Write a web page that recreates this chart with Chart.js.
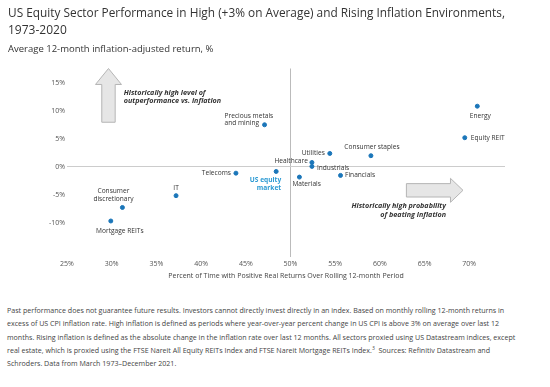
<!doctype html>
<html lang="en">
<head>
<meta charset="utf-8">
<title>US Equity Sector Performance</title>
<script src="https://cdn.jsdelivr.net/npm/chart.js@4.4.1/dist/chart.umd.min.js"></script>
<style>
  body { margin: 0; background: #fff; font-family: "Open Sans", sans-serif; }
  #wrap { position: relative; width: 550px; height: 290px; }
  #note { position: absolute; left: 7px; top: 304px; width: 540px; font-size: 7.1px; line-height: 13.3px; color: #444; white-space: nowrap; }
  #note sup { font-size: 5px; line-height: 0; }
</style>
</head>
<body>
<div id="wrap"><canvas id="myChart"></canvas></div>
<div id="note">Past performance does not guarantee future results. Investors cannot directly invest directly in an index. Based on monthly rolling 12-month returns in<br>excess of US CPI inflation rate. High inflation is defined as periods where year-over-year percent change in US CPI is above 3% on average over last 12<br>months. Rising inflation is defined as the absolute change in the inflation rate over last 12 months. All sectors proxied using US Datastream indices, except<br>real estate, which is proxied using the FTSE Nareit All Equity REITs Index and FTSE Nareit Mortgage REITs Index.<sup>3</sup>&nbsp; Sources: Refinitiv Datastream and<br>Schroders. Data from March 1973&ndash;December 2021.</div>
<script>
// sectors, % of time with positive real return (x), avg real return (y)
var sectors = ['Precious metals and mining', 'Telecoms', 'US equity market', 'Healthcare', 'Industrials',
  'Utilities', 'Consumer staples', 'Financials', 'Materials', 'Energy', 'Equity REIT', 'IT',
  'Consumer discretionary', 'Mortgage REITs'];
var pctPositive = [47.1, 43.9, 48.4, 52.4, 52.4, 54.4, 59.0, 55.6, 51.0, 70.9, 69.5, 37.2, 31.2, 29.9];
var avgReturn = [7.5, -1.1, -0.8, 0.8, 0.1, 2.4, 2.0, -1.5, -1.8, 10.8, 5.2, -5.1, -7.2, -9.6];
var xTicks = [25, 30, 35, 40, 45, 50, 55, 60, 65, 70];
var yTicks = [-15, -10, -5, 0, 5, 10, 15];

// label placement next to each point: [dx, dy, align, lines]
var labelPlace = [
  [-40, -9, 'left', ['Precious metals', 'and mining']],
  [-5, 0, 'right', ['Telecoms']],
  [5, 9, 'right', ['US equity', 'market']],
  [-4, -1, 'right', ['Healthcare']],
  [5, 2, 'left', ['Industrials']],
  [-5, 0, 'right', ['Utilities']],
  [1, -8.5, 'center', ['Consumer staples']],
  [4.5, 0, 'left', ['Financials']],
  [-7, 7, 'left', ['Materials']],
  [3, 10, 'center', ['Energy']],
  [6, 0, 'left', ['Equity REIT']],
  [0, -8, 'center', ['IT']],
  [-9, -16.5, 'center', ['Consumer', 'discretionary']],
  [9, 10, 'center', ['Mortgage REITs']]
];

var pts = pctPositive.map(function (x, i) { return { x: x, y: avgReturn[i] }; });

function keepTicks(list) {
  return function (scale) {
    scale.ticks = scale.ticks.filter(function (t) { return list.indexOf(t.value) >= 0; });
  };
}

var annotations = {
  id: 'annotations',
  afterDatasetsDraw: function (chart) {
    var ctx = chart.ctx, xs = chart.scales.x, ys = chart.scales.y;
    var meta = chart.getDatasetMeta(0);
    ctx.save();
    // arrows
    ctx.fillStyle = '#e6e6e6';
    ctx.strokeStyle = '#b5b5b5';
    ctx.lineWidth = 1;
    var ux = xs.getPixelForValue(29.64), uTip = ys.getPixelForValue(17.5),
      uBase = ys.getPixelForValue(14.66), uBot = ys.getPixelForValue(7.95);
    ctx.beginPath();
    ctx.moveTo(ux, uTip);
    ctx.lineTo(ux + 13, uBase);
    ctx.lineTo(ux + 6.7, uBase);
    ctx.lineTo(ux + 6.7, uBot);
    ctx.lineTo(ux - 6.7, uBot);
    ctx.lineTo(ux - 6.7, uBase);
    ctx.lineTo(ux - 13, uBase);
    ctx.closePath();
    ctx.fill(); ctx.stroke();
    var ry = ys.getPixelForValue(-4.15), rL = xs.getPixelForValue(62.97),
      rBase = xs.getPixelForValue(67.9), rTip = xs.getPixelForValue(69.3);
    ctx.beginPath();
    ctx.moveTo(rTip, ry);
    ctx.lineTo(rBase, ry - 12);
    ctx.lineTo(rBase, ry - 6.7);
    ctx.lineTo(rL, ry - 6.7);
    ctx.lineTo(rL, ry + 6.7);
    ctx.lineTo(rBase, ry + 6.7);
    ctx.lineTo(rBase, ry + 12);
    ctx.closePath();
    ctx.fill(); ctx.stroke();

    ctx.fillStyle = '#333';
    ctx.font = 'italic bold 7.2px "Open Sans"';
    ctx.textBaseline = 'middle';
    ctx.textAlign = 'left';
    ctx.fillText('Historically high level of', xs.getPixelForValue(31.35), ys.getPixelForValue(13.2));
    ctx.fillText('outperformance vs. inflation', xs.getPixelForValue(31.35), ys.getPixelForValue(11.7));
    ctx.textAlign = 'right';
    ctx.fillText('Historically high probability', xs.getPixelForValue(67.4), ys.getPixelForValue(-7.0));
    ctx.fillText('of beating inflation', xs.getPixelForValue(67.4), ys.getPixelForValue(-8.5));

    // point labels
    meta.data.forEach(function (el, i) {
      var p = labelPlace[i];
      var blue = sectors[i] === 'US equity market';
      ctx.font = (blue ? 'bold ' : '') + '6.6px "Open Sans"';
      ctx.fillStyle = blue ? '#2b9ad3' : '#333';
      ctx.textAlign = p[2];
      p[3].forEach(function (line, k) {
        ctx.fillText(line, el.x + p[0], el.y + p[1] + k * 7.8);
      });
    });
    ctx.restore();
  }
};

var ctx = document.getElementById('myChart').getContext('2d');
var chart = new Chart(ctx, {
  type: 'scatter',
  data: {
    datasets: [{
      label: 'Sectors',
      data: pts,
      backgroundColor: '#1b76b9',
      borderColor: '#1b76b9',
      pointRadius: 2,
      pointHoverRadius: 2,
      clip: false
    }]
  },
  options: {
    responsive: true,
    maintainAspectRatio: false,
    animation: false,
    layout: { padding: { left: 8, right: 45, top: 0, bottom: 0 } },
    plugins: {
      legend: { display: false },
      tooltip: { enabled: false },
      title: {
        display: true,
        align: 'start',
        text: ['US Equity Sector Performance in High (+3% on Average) and Rising Inflation Environments,', '1973-2020'],
        color: '#333',
        font: { family: 'Open Sans', size: 12, weight: 'normal', lineHeight: 1.4 },
        padding: { top: 5.5, bottom: 2 }
      },
      subtitle: {
        display: true,
        align: 'start',
        text: 'Average 12-month inflation-adjusted return, %',
        color: '#333',
        font: { family: 'Open Sans', size: 9.5, lineHeight: 1.2 },
        padding: { top: 2, bottom: 14 }
      }
    },
    scales: {
      x: {
        type: 'linear',
        min: 25,
        max: 74,
        afterBuildTicks: keepTicks(xTicks),
        afterFit: function (s) { s.height = 33; },
        ticks: { stepSize: 5, padding: 3, color: '#555', font: { family: 'Open Sans', size: 7 },
          callback: function (v) { return v + '%'; } },
        grid: { drawTicks: false, color: function (c) { return c.tick && c.tick.value === 50 ? '#bbb' : 'transparent'; } },
        border: { display: false },
        title: { display: true, text: 'Percent of Time with Positive Real Returns Over Rolling 12-month Period',
          color: '#444', font: { family: 'Open Sans', size: 7 }, padding: { top: 4, bottom: 10 } }
      },
      y: {
        type: 'linear',
        min: -16,
        max: 17.5,
        afterBuildTicks: keepTicks(yTicks),
        afterFit: function (s) { s.width = 59; },
        ticks: { stepSize: 5, padding: 2, color: '#555', font: { family: 'Open Sans', size: 7 },
          callback: function (v) { return v + '%'; } },
        grid: { drawTicks: false, color: function (c) { return c.tick && c.tick.value === 0 ? '#ccc' : 'transparent'; } },
        border: { display: false }
      }
    }
  },
  plugins: [annotations]
});
</script>
</body>
</html>
